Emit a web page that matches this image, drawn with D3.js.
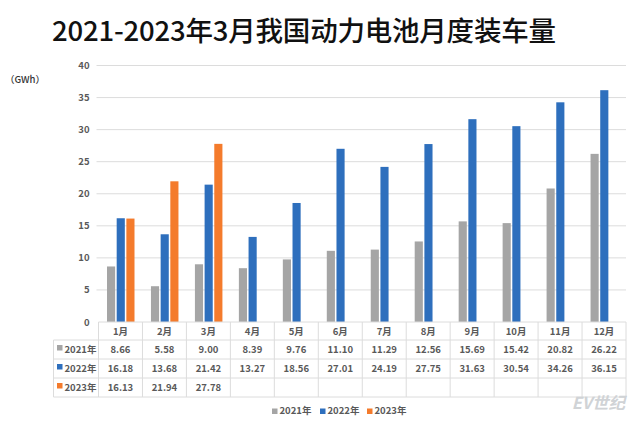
<!DOCTYPE html>
<html>
<head>
<meta charset="utf-8">
<script src="https://cdn.jsdelivr.net/npm/d3@7/dist/d3.min.js"></script>
<style>
  html, body { margin: 0; padding: 0; background: #fff; }
  text { font-family: "Noto Sans CJK SC", "Noto Sans", sans-serif; }
</style>
</head>
<body>
<div id="chart"></div>
<script>
const months = ["1月", "2月", "3月", "4月", "5月", "6月", "7月", "8月", "9月", "10月", "11月", "12月"];
const seriesNames = ["2021年", "2022年", "2023年"];
const seriesColors = ["#a5a5a5", "#2e6fbd", "#f47b2c"];
const values2021 = [8.66, 5.58, 9.00, 8.39, 9.76, 11.10, 11.29, 12.56, 15.69, 15.42, 20.82, 26.22];
const values2022 = [16.18, 13.68, 21.42, 13.27, 18.56, 27.01, 24.19, 27.75, 31.63, 30.54, 34.26, 36.15];
const values2023 = [16.13, 21.94, 27.78];
const yTicks = [0, 5, 10, 15, 20, 25, 30, 35, 40];
const allSeries = [values2021, values2022, values2023];

const width = 640, height = 423;
const svg = d3.select("#chart").append("svg")
  .attr("width", width).attr("height", height)
  .style("display", "block");

const plotLeft = 98.5, plotRight = 626, plotTop = 65.5, plotBottom = 322;
const tableLeft = 53.5;
const rowTops = [322, 340, 359, 378, 397];
const gridColor = "#dcdcdc", textColor = "#595959";

const x = d3.scaleBand().domain(months).range([plotLeft, plotRight]);
const slot = d3.scaleBand().domain(d3.range(3)).range([8.5, 36]).paddingInner(0.16);
const y = d3.scaleLinear().domain([0, 40]).range([plotBottom, plotTop]);

svg.append("text")
  .attr("x", 52).attr("y", 41)
  .attr("font-size", 27.5).attr("font-weight", 500).attr("fill", "#111")
  .attr("textLength", 504).attr("lengthAdjust", "spacing")
  .text("2021-2023年3月我国动力电池月度装车量");

svg.append("text")
  .attr("x", 5).attr("y", 82.5)
  .attr("font-size", 9.5).attr("font-weight", 500).attr("fill", "#333")
  .text("（GWh）");

// y axis with gridlines
const yAxis = d3.axisLeft(y).tickValues(yTicks).tickSize(0).tickPadding(8);
const yG = svg.append("g").attr("transform", `translate(${plotLeft - 2},0)`).call(yAxis);
yG.select(".domain").remove();
yG.selectAll("text").attr("font-size", 9.5).attr("fill", textColor).attr("font-weight", 700)
  .attr("x", -7);

svg.append("g").selectAll("line")
  .data(yTicks.filter(d => d > 0))
  .join("line")
  .attr("x1", plotLeft - 2).attr("x2", plotRight)
  .attr("y1", d => y(d)).attr("y2", d => y(d))
  .attr("stroke", gridColor);

// bars
allSeries.forEach((vals, s) => {
  svg.append("g").selectAll("rect")
    .data(vals)
    .join("rect")
    .attr("x", (d, i) => x(months[i]) + slot(s))
    .attr("y", d => y(d))
    .attr("width", slot.bandwidth())
    .attr("height", d => plotBottom - y(d))
    .attr("fill", seriesColors[s]);
});

// data table
const table = svg.append("g").attr("stroke", gridColor).attr("fill", "none");
rowTops.forEach((t, i) => {
  table.append("line")
    .attr("x1", i === 0 ? plotLeft : tableLeft).attr("x2", plotRight)
    .attr("y1", t).attr("y2", t);
});
table.append("line").attr("x1", tableLeft).attr("x2", tableLeft)
  .attr("y1", rowTops[1]).attr("y2", rowTops[4]);
[...months.map(m => x(m)), plotRight].forEach(px => {
  table.append("line").attr("x1", px).attr("x2", px)
    .attr("y1", rowTops[0]).attr("y2", rowTops[4]);
});

const cellText = (px, py, str, anchor) => svg.append("text")
  .attr("x", px).attr("y", py)
  .attr("text-anchor", anchor || "middle")
  .attr("font-size", 9.5).attr("font-weight", 700).attr("fill", textColor)
  .text(str);

months.forEach(m => cellText(x(m) + x.bandwidth() / 2, 334.5, m));

allSeries.forEach((vals, s) => {
  const py = (rowTops[s + 1] + rowTops[s + 2]) / 2 + 3;
  svg.append("rect")
    .attr("x", 57).attr("y", py - 7.5).attr("width", 5.5).attr("height", 5.5)
    .attr("fill", seriesColors[s]);
  cellText(64.5, py, seriesNames[s], "start");
  vals.forEach((v, i) => cellText(x(months[i]) + x.bandwidth() / 2, py, v.toFixed(2)));
});

// legend
const legendX = [272, 320, 367];
seriesNames.forEach((name, s) => {
  svg.append("rect")
    .attr("x", legendX[s]).attr("y", 408.5).attr("width", 5.5).attr("height", 5.5)
    .attr("fill", seriesColors[s]);
  cellText(legendX[s] + 7.5, 414, name, "start");
});

// watermark
svg.append("text")
  .attr("x", 625).attr("y", 409)
  .attr("text-anchor", "end")
  .attr("font-size", 16.5).attr("font-style", "italic").attr("font-weight", 700)
  .attr("fill", "#d0d3d6")
  .text("EV世纪");
</script>
</body>
</html>
